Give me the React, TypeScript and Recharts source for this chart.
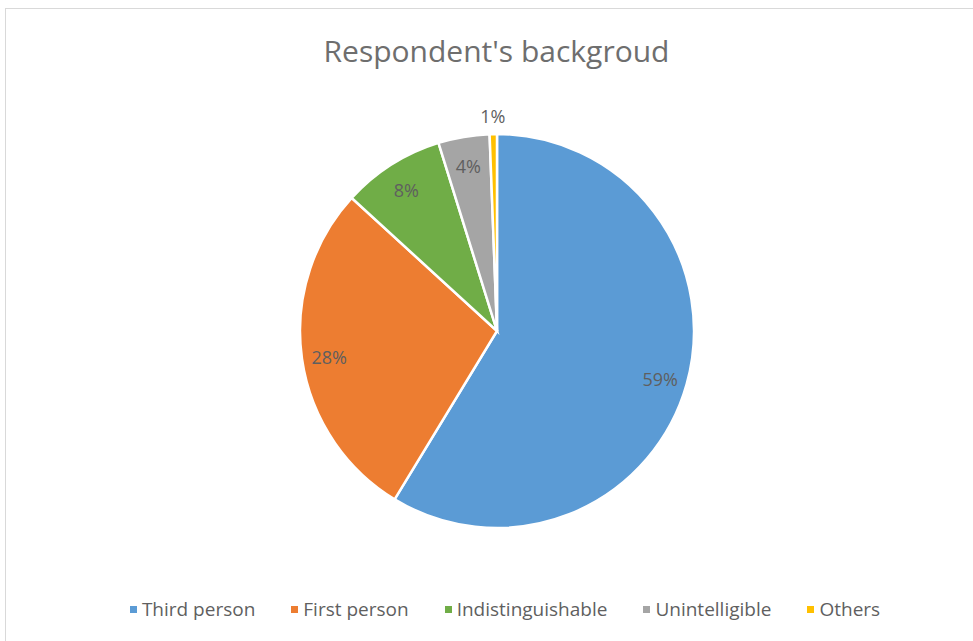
import React from "react";
import { PieChart, Pie, Cell, Legend } from "recharts";

// categories and shares (clockwise from 12 o'clock)
const categories = ["Third person", "First person", "Indistinguishable", "Unintelligible", "Others"];
const shares = [58.7, 28.1, 8.4, 4.2, 0.6];
const colors = ["#5B9BD5", "#ED7D31", "#70AD47", "#A5A5A5", "#FFC000"];

const data = categories.map((name, i) => ({ name, value: shares[i] }));

const RAD = Math.PI / 180;
const font = "'Open Sans', 'Noto Sans', sans-serif";

const renderLabel = (props: any) => {
  const { cx, cy, midAngle, outerRadius, percent } = props;
  // small slices get their label outside, like Excel's best fit
  const r = percent < 0.02 ? outerRadius + 20 : outerRadius * 0.86;
  const x = cx + r * Math.cos(-midAngle * RAD);
  const y = cy + r * Math.sin(-midAngle * RAD) + 2;
  return (
    <text
      x={x}
      y={y}
      fill="#5f5f5f"
      fontSize={18}
      fontFamily={font}
      textAnchor="middle"
      dominantBaseline="central"
    >
      {`${Math.round(percent * 100)}%`}
    </text>
  );
};

const renderLegend = (props: any) => {
  // keep the data order, not the sorted one
  const payload = [...(props.payload || [])].sort(
    (a: any, b: any) => categories.indexOf(a.value) - categories.indexOf(b.value)
  );
  return (
    <div style={{ display: "flex", justifyContent: "center", fontFamily: font, fontSize: 19, color: "#5f5f5f" }}>
      {payload.map((entry: any, i: number) => (
        <span key={i} style={{ display: "flex", alignItems: "center", margin: "0 18px" }}>
          <span style={{ width: 7, height: 7, background: entry.color, marginRight: 5, display: "inline-block" }} />
          {entry.value}
        </span>
      ))}
    </div>
  );
};

const App: React.FC = () => {
  return (
    <div style={{ position: "absolute", left: 0, top: 0, width: 973, height: 641, background: "#fff", overflow: "hidden" }}>
      <div
        style={{
          position: "absolute",
          left: 5,
          top: 8,
          width: 1000,
          height: 700,
          border: "1px solid #d9d9d9",
        }}
      />
      <div
        style={{
          position: "absolute",
          left: 0,
          top: 30,
          width: 993,
          textAlign: "center",
          fontFamily: font,
          fontSize: 30,
          color: "#6e6e6e",
        }}
      >
        Respondent's backgroud
      </div>
      <div style={{ position: "absolute", left: 0, top: 0 }}>
        <PieChart width={973} height={641}>
          <Pie
            data={data}
            dataKey="value"
            nameKey="name"
            cx={492}
            cy={326}
            outerRadius={197}
            startAngle={90}
            endAngle={-270}
            stroke="#ffffff"
            strokeWidth={2.5}
            label={renderLabel}
            labelLine={false}
            isAnimationActive={false}
          >
            {data.map((d, i) => (
              <Cell key={d.name} fill={colors[i]} />
            ))}
          </Pie>
          <Legend
            verticalAlign="bottom"
            content={renderLegend}
            wrapperStyle={{ bottom: 19, left: 0, width: 1010 }}
          />
        </PieChart>
      </div>
    </div>
  );
};

export default App;
